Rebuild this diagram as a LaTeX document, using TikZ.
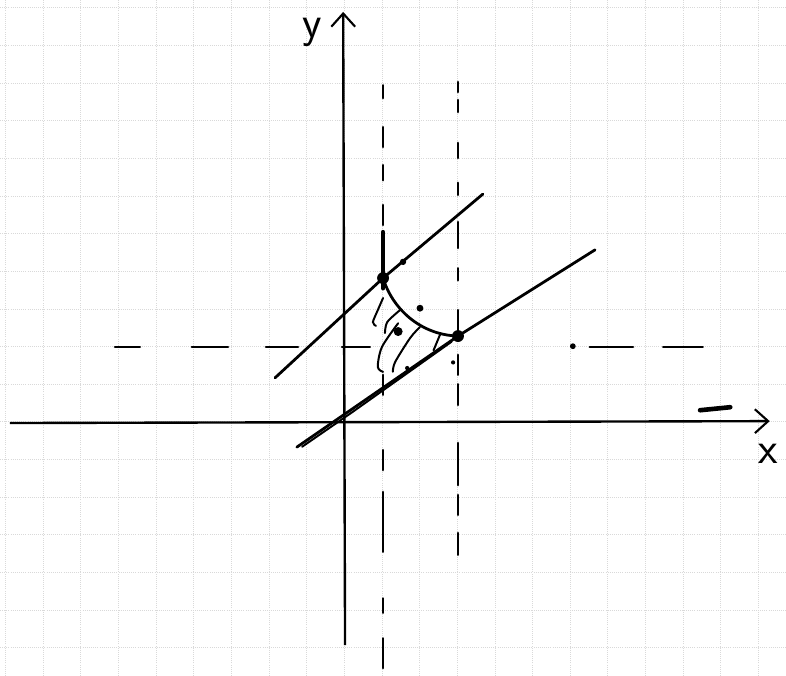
\documentclass[tikz,border=0pt]{standalone}
\usepackage{amsmath}
\usetikzlibrary{arrows.meta}

\begin{document}
\begin{tikzpicture}[
    >={Straight Barb[length=10pt,width=18pt,line width=1.6pt]},
    every node/.style={font=\sffamily\fontsize{34}{34}\selectfont},
    gridline/.style={gray!30, densely dotted, line width=0.6pt},
    axisline/.style={black, line width=1.8pt},
    handdash/.style={black, line width=2pt, line cap=round},
    curveline/.style={black, line width=2.1pt, line cap=round},
    hatch/.style={black, line width=1.5pt, line cap=round},
    dotpoint/.style={fill=black}
]
    \fill[white] (-9.145,-6.749) rectangle (11.732,11.206);
    \useasboundingbox (-9.145,-6.749) rectangle (11.732,11.206);

    % squared paper
    \foreach \x in {-9,...,11}
        \draw[gridline] (\x,-6.749) -- (\x,11.206);
    \foreach \y in {-6,...,11}
        \draw[gridline] (-9.145,\y) -- (11.732,\y);

    % axes
    \coordinate (Xstart) at (-8.88,-0.03);
    \coordinate (Xend) at (11.3,0.02);
    \coordinate (Ystart) at (0.02,-5.93);
    \coordinate (Yend) at (-0.03,10.89);
    \draw[axisline, ->] (Xstart) -- (Xend);
    \draw[axisline, ->] (Ystart) -- (Yend);
    \node (Xlabel) at (11.25,-0.85) {x};
    \node (Ylabel) at (-0.86,10.35) {y};

    % dashed guide lines, drawn by hand
    \foreach \a/\b in {8.94/8.60,7.83/7.30,6.82/6.42,5.76/5.23,1.25/0.72,-0.75/-1.28,-1.86/-3.45,-4.69/-5.07,-5.75/-6.54}
        \draw[handdash] (1.03,\a) -- (1.03,\b);
    \foreach \a/\b in {9.03/8.76,8.55/8.23,7.41/7.01,6.35/6.03,5.31/4.62,4.08/3.76,2.97/2.40,1.78/1.25,1.00/0.45,-0.56/-1.68,-1.94/-2.47,-2.95/-3.53}
        \draw[handdash] (3.02,\a) -- (3.02,\b);
    \foreach \a/\b in {-6.09/-5.43,-4.05/-3.09,-2.08/-1.23,-0.06/0.68,6.52/7.67,8.47/9.52}
        \draw[handdash] (\a,1.99) -- (\b,1.99);
    \fill (6.07,2.01) circle (2.2pt);

    % tangent lines and the arc between the two points
    \coordinate (P1) at (1.03,3.82);
    \coordinate (P2) at (3.02,2.28);
    \coordinate (U1) at (-1.84,1.17);
    \coordinate (U2) at (3.68,6.05);
    \coordinate (L1) at (-1.26,-0.67);
    \coordinate (L2) at (6.66,4.57);
    \draw[curveline] (U1) -- (P1) -- (U2);
    \draw[curveline] (L1) -- (P2) -- (L2);
    \draw[hatch] (-1.12,-0.66) -- (0.2,0.25) -- (2.85,2.13);
    \draw[handdash, line width=3.4pt] (1.03,5.04) -- (1.03,3.55);
    \draw[curveline] (P1) .. controls (1.27,3.02) and (2.01,2.31) .. (P2);
    \fill[dotpoint] (P1) circle (4.5pt);
    \fill[dotpoint] (P2) circle (4.5pt);

    % shading below the arc
    \draw[hatch] plot[smooth] coordinates {(1.03,3.29) (0.89,2.97) (0.76,2.65) (0.84,2.55)};
    \draw[hatch] plot[smooth] coordinates {(1.48,2.97) (1.14,2.65) (1.08,2.36)};
    \draw[hatch] plot[smooth] coordinates {(1.43,2.62) (1.00,1.99) (0.89,1.46) (1.03,1.33)};
    \draw[hatch] plot[smooth] coordinates {(2.01,2.52) (1.75,2.23) (1.35,1.59) (1.29,1.33)};
    \draw[hatch] plot[smooth] coordinates {(2.54,2.31) (2.37,1.90)};
    \fill (1.56,4.25) circle (2.4pt);
    \fill (2.01,3.02) circle (2.6pt);
    \fill (1.43,2.40) circle (3.4pt);
    \fill (1.67,1.43) circle (1.6pt);
    \fill (2.89,1.58) circle (1.6pt);

    % smudge on the paper
    \draw[black, line width=3.5pt, line cap=round] (9.45,0.31) -- (10.25,0.39);
\end{tikzpicture}
\end{document}
